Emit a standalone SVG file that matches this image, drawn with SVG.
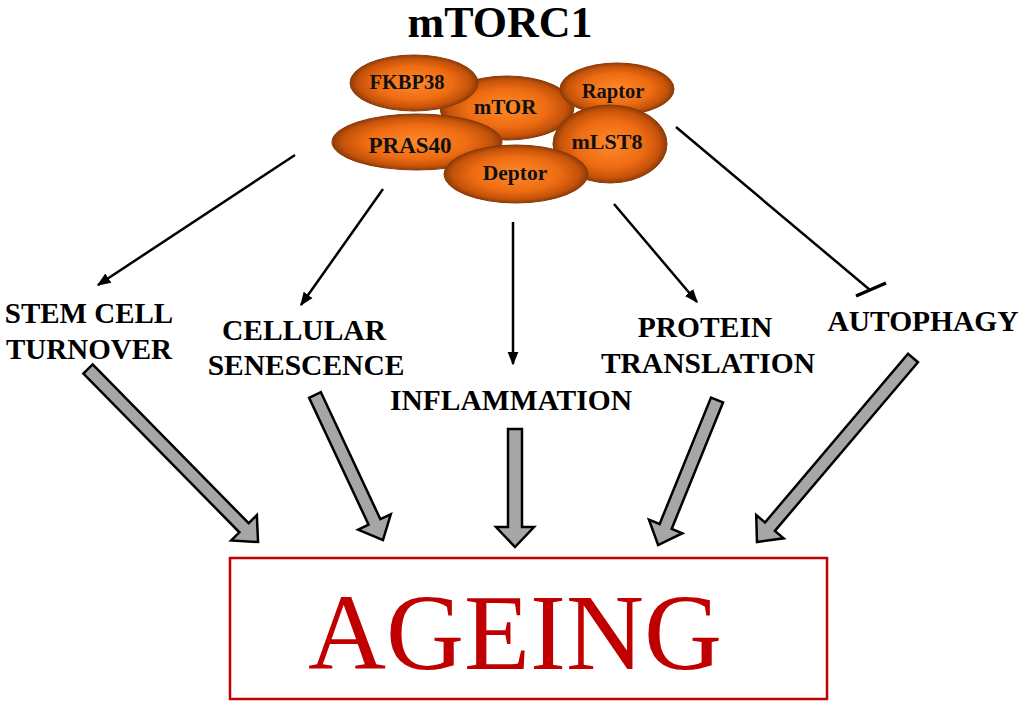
<svg xmlns="http://www.w3.org/2000/svg" width="1024" height="707" viewBox="0 0 1024 707">
<style>
.lbl{font-family:"Liberation Serif","Times New Roman",serif;font-weight:bold;fill:#000;text-anchor:middle}
.sub{font-family:"Liberation Serif","Times New Roman",serif;font-weight:bold;fill:#111;text-anchor:middle}
.ell{fill:url(#og);stroke:#8a3a08;stroke-width:1}
.thin{stroke:#000;stroke-width:2.5;fill:none}
.block{fill:#a6a6a6;stroke:#000;stroke-width:2.5;stroke-linejoin:miter}
</style>
<defs>
<radialGradient id="og" cx="0.5" cy="0.5" r="0.5">
<stop offset="0" stop-color="#ff8a2a"/>
<stop offset="0.6" stop-color="#ee6c12"/>
<stop offset="0.88" stop-color="#c4520a"/>
<stop offset="1" stop-color="#8e3b06"/>
</radialGradient>
<marker id="ah" viewBox="0 0 10 10" refX="9" refY="5" markerWidth="5.5" markerHeight="5.5" orient="auto" markerUnits="strokeWidth">
<path d="M0,1 L10,5 L0,9 Z" fill="#000"/>
</marker>
</defs>
<rect width="1024" height="707" fill="#fff"/>

<g id="title"><text class="lbl" x="500" y="37" font-size="44">mTORC1</text></g>

<g id="complex">
<g id="mTOR"><ellipse class="ell" cx="507" cy="108" rx="67" ry="32"/><text class="sub" x="505" y="114" font-size="21">mTOR</text></g>
<g id="FKBP38"><ellipse class="ell" cx="414" cy="83" rx="64" ry="28"/><text class="sub" x="407" y="89" font-size="20.5">FKBP38</text></g>
<g id="Raptor"><ellipse class="ell" cx="617" cy="89" rx="57" ry="26"/><text class="sub" x="613" y="98" font-size="20.5">Raptor</text></g>
<g id="PRAS40"><ellipse class="ell" cx="417" cy="142" rx="85" ry="28"/><text class="sub" x="410" y="153" font-size="23">PRAS40</text></g>
<g id="mLST8"><ellipse class="ell" cx="610" cy="144" rx="57" ry="39"/><text class="sub" x="607" y="149" font-size="22">mLST8</text></g>
<g id="Deptor"><ellipse class="ell" cx="516" cy="174" rx="72" ry="29"/><text class="sub" x="515" y="180" font-size="21.5">Deptor</text></g>
</g>

<g id="connectors">
<line class="thin" x1="295" y1="155" x2="98" y2="285" marker-end="url(#ah)"/>
<line class="thin" x1="383" y1="189" x2="301" y2="305" marker-end="url(#ah)"/>
<line class="thin" x1="513" y1="222" x2="513" y2="364" marker-end="url(#ah)"/>
<line class="thin" x1="614" y1="204" x2="697" y2="302" marker-end="url(#ah)"/>
<line class="thin" x1="676" y1="127" x2="870" y2="290"/>
<line x1="856" y1="296" x2="886" y2="283" stroke="#000" stroke-width="3.5"/>

<path class="block" transform="translate(88,369) rotate(45.5)" d="M0,-6.5 L222.6,-6.5 L222.6,-18 L242.6,0 L222.6,18 L222.6,6.5 L0,6.5 Z"/>
<path class="block" transform="translate(315,395) rotate(64.9)" d="M0,-6.5 L140.2,-6.5 L140.2,-18 L160.2,0 L140.2,18 L140.2,6.5 L0,6.5 Z"/>
<path class="block" transform="translate(515,429) rotate(90)" d="M0,-7 L98,-7 L98,-19 L118,0 L98,19 L98,7 L0,7 Z"/>
<path class="block" transform="translate(717,400) rotate(112.1)" d="M0,-6.5 L136.5,-6.5 L136.5,-18 L156.5,0 L136.5,18 L136.5,6.5 L0,6.5 Z"/>
<path class="block" transform="translate(913,358) rotate(130.3)" d="M0,-6.5 L221.2,-6.5 L221.2,-18 L241.2,0 L221.2,18 L221.2,6.5 L0,6.5 Z"/>
</g>

<g id="stemcell"><text class="lbl" font-size="29"><tspan x="89" y="323">STEM CELL</tspan><tspan x="89" y="359">TURNOVER</tspan></text></g>
<g id="senescence"><text class="lbl" font-size="29.5"><tspan x="304" y="340">CELLULAR</tspan><tspan x="306" y="375">SENESCENCE</tspan></text></g>
<g id="inflammation"><text class="lbl" x="511" y="410" font-size="29.5">INFLAMMATION</text></g>
<g id="protein"><text class="lbl" font-size="29.5"><tspan x="705" y="337">PROTEIN</tspan><tspan x="708" y="373">TRANSLATION</tspan></text></g>
<g id="autophagy"><text class="lbl" x="923" y="331" font-size="29.5">AUTOPHAGY</text></g>

<g id="ageing">
<rect x="230" y="558" width="597" height="141" fill="none" stroke="#c00000" stroke-width="2.5"/>
<text x="515" y="669" font-family="'Liberation Serif','Times New Roman',serif" font-size="108" fill="#c00000" text-anchor="middle">AGEING</text>
</g>
</svg>
